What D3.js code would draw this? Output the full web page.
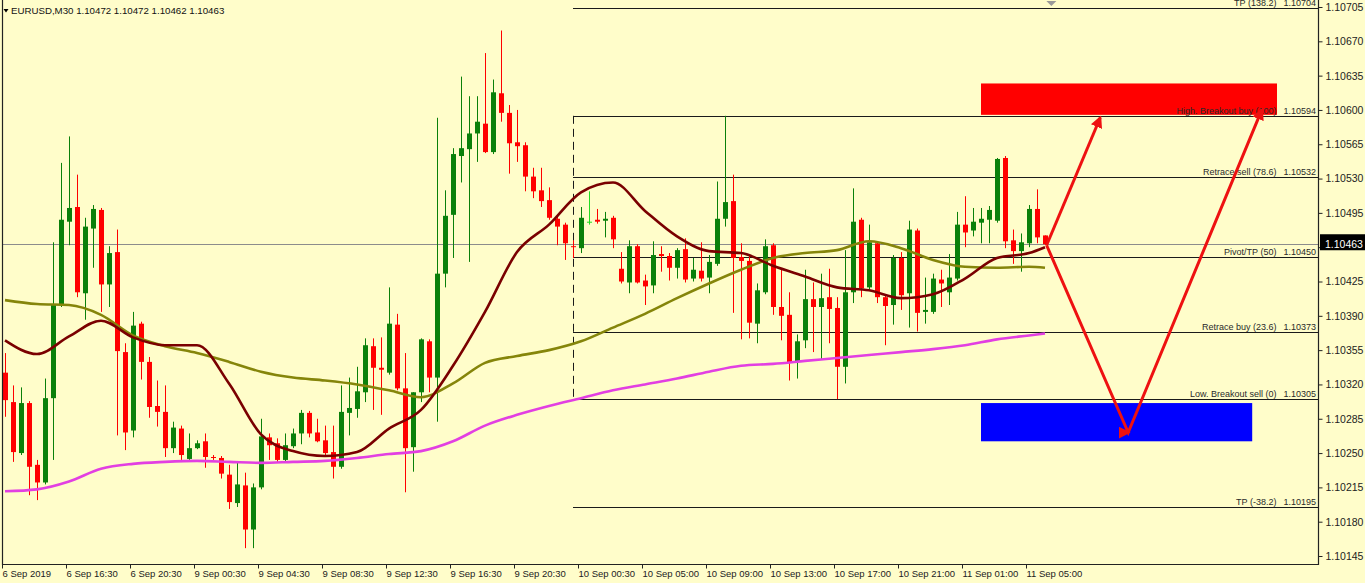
<!DOCTYPE html>
<html><head><meta charset="utf-8">
<script src="https://cdn.jsdelivr.net/npm/d3@7"></script>
<style>
html,body{margin:0;padding:0;background:#fffdca;overflow:hidden;}
svg{display:block;}
text{font-family:"Liberation Sans",Arial,sans-serif;}
</style></head><body>
<svg id="c" width="1365" height="583"></svg>
<script>
// ---- data ----
const symbolTitle = "EURUSD,M30  1.10472 1.10472 1.10462 1.10463";
const opens = [1.10332,1.10302,1.10250,1.10301,1.10238,1.10220,1.10306,1.10401,1.10486,1.10501,
1.10413,1.10479,1.10498,1.10422,1.10455,1.10353,1.10273,1.10382,1.10343,1.10298,
1.10292,1.10255,1.10275,1.10244,1.10255,1.10262,1.10246,1.10245,1.10228,1.10199,
1.10217,1.10172,1.10215,1.10266,1.10260,1.10243,1.10257,1.10270,1.10291,1.10271,
1.10263,1.10251,1.10236,1.10291,1.10295,1.10312,1.10359,1.10337,1.10332,1.10381,
1.10316,1.10256,1.10312,1.10364,1.10327,1.10433,1.10493,1.10553,1.10560,1.10576,
1.10586,1.10557,1.10617,1.10597,1.10567,1.10564,1.10532,1.10518,1.10508,1.10489,
1.10483,1.10461,1.10459,1.10486,1.10488,1.10487,1.10490,1.10438,1.10424,1.10461,
1.10426,1.10421,1.10453,1.10451,1.10439,1.10458,1.10428,1.10436,1.10429,1.10443,
1.10489,1.10507,1.10450,1.10446,1.10382,1.10414,1.10462,1.10399,1.10391,1.10343,
1.10365,1.10407,1.10399,1.10409,1.10398,1.10338,1.10414,1.10488,1.10419,1.10464,
1.10409,1.10401,1.10449,1.10413,1.10477,1.10394,1.10394,1.10427,1.10414,1.10428,
1.10483,1.10477,1.10485,1.10488,1.10487,1.10551,1.10467,1.10456,1.10464,1.10499,
1.10472];
const highs = [1.10352,1.10319,1.10317,1.10303,1.10243,1.10326,1.10465,1.10546,1.10573,1.10534,
1.10490,1.10503,1.10500,1.10461,1.10478,1.10362,1.10394,1.10384,1.10348,1.10324,
1.10319,1.10282,1.10278,1.10270,1.10263,1.10270,1.10248,1.10247,1.10238,1.10240,
1.10230,1.10219,1.10285,1.10270,1.10265,1.10270,1.10275,1.10294,1.10293,1.10285,
1.10278,1.10278,1.10319,1.10327,1.10338,1.10367,1.10367,1.10368,1.10419,1.10392,
1.10352,1.10312,1.10367,1.10366,1.10592,1.10518,1.10561,1.10634,1.10614,1.10614,
1.10658,1.10631,1.10681,1.10605,1.10600,1.10567,1.10541,1.10541,1.10521,1.10491,
1.10485,1.10467,1.10501,1.10517,1.10499,1.10496,1.10492,1.10455,1.10467,1.10463,
1.10432,1.10466,1.10461,1.10454,1.10459,1.10469,1.10449,1.10465,1.10452,1.10527,
1.10594,1.10534,1.10464,1.10453,1.10423,1.10468,1.10464,1.10437,1.10414,1.10371,
1.10437,1.10424,1.10433,1.10438,1.10409,1.10457,1.10520,1.10490,1.10483,1.10466,
1.10411,1.10452,1.10455,1.10487,1.10479,1.10429,1.10433,1.10437,1.10453,1.10496,
1.10512,1.10500,1.10500,1.10502,1.10551,1.10553,1.10478,1.10474,1.10503,1.10519,
1.10472];
const lows = [1.10287,1.10241,1.10248,1.10207,1.10202,1.10218,1.10243,1.10399,1.10462,1.10409,
1.10386,1.10439,1.10394,1.10399,1.10268,1.10253,1.10266,1.10325,1.10286,1.10277,
1.10246,1.10250,1.10243,1.10243,1.10254,1.10235,1.10243,1.10224,1.10193,1.10195,
1.10153,1.10153,1.10213,1.10243,1.10241,1.10241,1.10255,1.10259,1.10266,1.10261,
1.10248,1.10224,1.10234,1.10268,1.10286,1.10302,1.10294,1.10289,1.10330,1.10314,
1.10210,1.10231,1.10302,1.10312,1.10282,1.10419,1.10449,1.10526,1.10445,1.10547,
1.10556,1.10555,1.10588,1.10535,1.10547,1.10517,1.10510,1.10501,1.10488,1.10462,
1.10447,1.10449,1.10454,1.10483,1.10484,1.10470,1.10459,1.10423,1.10413,1.10423,
1.10401,1.10413,1.10435,1.10426,1.10428,1.10424,1.10425,1.10425,1.10413,1.10441,
1.10481,1.10393,1.10366,1.10367,1.10362,1.10412,1.10391,1.10365,1.10324,1.10326,
1.10357,1.10353,1.10345,1.10362,1.10305,1.10321,1.10403,1.10409,1.10417,1.10403,
1.10360,1.10381,1.10396,1.10378,1.10374,1.10382,1.10392,1.10399,1.10401,1.10426,
1.10460,1.10471,1.10464,1.10464,1.10485,1.10459,1.10443,1.10435,1.10460,1.10464,
1.10462];
const closes = [1.10304,1.10251,1.10301,1.10236,1.10220,1.10306,1.10401,1.10488,1.10500,1.10414,
1.10481,1.10499,1.10422,1.10454,1.10354,1.10271,1.10380,1.10343,1.10297,1.10292,
1.10255,1.10276,1.10248,1.10255,1.10260,1.10246,1.10245,1.10229,1.10200,1.10218,
1.10172,1.10215,1.10267,1.10258,1.10243,1.10258,1.10270,1.10291,1.10270,1.10262,
1.10250,1.10236,1.10292,1.10296,1.10313,1.10360,1.10337,1.10335,1.10382,1.10316,
1.10255,1.10312,1.10366,1.10327,1.10433,1.10492,1.10555,1.10561,1.10576,1.10588,
1.10557,1.10618,1.10597,1.10566,1.10563,1.10532,1.10517,1.10507,1.10490,1.10481,
1.10464,1.10460,1.10490,1.10486,1.10486,1.10489,1.10468,1.10425,1.10461,1.10424,
1.10420,1.10452,1.10451,1.10439,1.10457,1.10427,1.10437,1.10428,1.10445,1.10489,
1.10506,1.10449,1.10446,1.10383,1.10416,1.10461,1.10399,1.10390,1.10342,1.10364,
1.10407,1.10399,1.10408,1.10397,1.10338,1.10414,1.10486,1.10418,1.10465,1.10409,
1.10400,1.10449,1.10411,1.10478,1.10393,1.10396,1.10428,1.10423,1.10429,1.10483,
1.10475,1.10486,1.10489,1.10498,1.10550,1.10466,1.10456,1.10465,1.10499,1.10470,
1.10463];

const maIdx  = [0,4,8,12,16,20,24,28,32,36,40,44,48,52,56,60,64,68,72,76,80,84,88,92,96,100,104,108,112,116,120,124,128,130];
const maFast = [1.10365,1.10351,1.10369,1.10385,1.10368,1.10360,1.10360,1.10321,1.10269,1.10252,1.10247,1.10251,1.10275,1.10294,1.10339,1.10394,1.10455,1.10483,1.10516,1.10526,1.10497,1.10471,1.10456,1.10454,1.10441,1.10430,1.10419,1.10416,1.10408,1.10412,1.10428,1.10449,1.10454,1.10460];
const maMid  = [1.10406,1.10402,1.10401,1.10391,1.10370,1.10359,1.10352,1.10343,1.10333,1.10327,1.10324,1.10320,1.10314,1.10307,1.10321,1.10342,1.10349,1.10355,1.10364,1.10378,1.10392,1.10408,1.10423,1.10437,1.10449,1.10454,1.10457,1.10466,1.10459,1.10447,1.10440,1.10439,1.10440,1.10439];
const maSlow = [1.10211,1.10213,1.10221,1.10234,1.10239,1.10241,1.10242,1.10241,1.10240,1.10241,1.10242,1.10245,1.10249,1.10252,1.10262,1.10278,1.10289,1.10298,1.10306,1.10314,1.10320,1.10326,1.10333,1.10339,1.10341,1.10344,1.10347,1.10350,1.10353,1.10356,1.10360,1.10366,1.10370,1.10372];

const priceTicks = [1.10145,1.10180,1.10215,1.10250,1.10285,1.10320,1.10355,1.10390,1.10425,1.10460,1.10495,1.10530,1.10565,1.10600,1.10635,1.10670,1.10705];
const timeTickIdx = [0,8,16,24,32,40,48,56,64,72,80,88,96,104,112,120,128];
const timeLabels = ["6 Sep 2019","6 Sep 16:30","6 Sep 20:30","9 Sep 00:30","9 Sep 04:30","9 Sep 08:30","9 Sep 12:30","9 Sep 16:30","9 Sep 20:30","10 Sep 00:30","10 Sep 05:00","10 Sep 09:00","10 Sep 13:00","10 Sep 17:00","10 Sep 21:00","11 Sep 01:00","11 Sep 05:00"];

const lastPrice = 1.10463;
const fibStartIdx = 71;
const fibLabels = ["TP (138.2)","High. Breakout buy (100)","Retrace sell (78.6)","Pivot/TP (50)","Retrace buy (23.6)","Low. Breakout sell (0)","TP (-38.2)"];
const fibValues = [1.10704,1.10594,1.10532,1.10450,1.10373,1.10305,1.10195];
const fibHigh = 1.10594, fibLow = 1.10305;

const zoneNames = ["buy","sell"];
const zoneStart = [122,122];
const zoneEnd   = [159,155.9];
const zoneTop   = [1.10627,1.10301];
const zoneBottom= [1.10595,1.10262];
const zoneColors= ["#ff0000","#0000ff"];

const arrowUpIdx = [130.2,136.9];
const arrowUpPrice = [1.10462,1.10592];
const arrowVIdx = [130.2,140.4,157.1];
const arrowVPrice = [1.10462,1.10271,1.10600];

// ---- layout ----
const W=1365,H=583;
const pL=2, pR=1318, pT=0, pB=564;
const svg=d3.select("#c");
svg.append("rect").attr("width",W).attr("height",H).attr("fill","#fffdca");

const x=d3.scaleLinear().domain([0,130]).range([5,1045]);
const y=d3.scaleLinear().domain([1.10145,1.10705]).range([556,7]);

const defs=svg.append("defs");
defs.append("clipPath").attr("id","plot")
  .append("rect").attr("x",pL).attr("y",pT).attr("width",pR-pL).attr("height",pB-pT);
const g=svg.append("g").attr("clip-path","url(#plot)");

// current price line
g.append("line").attr("x1",pL).attr("x2",pR).attr("y1",Math.round(y(lastPrice))+0.5).attr("y2",Math.round(y(lastPrice))+0.5)
  .attr("stroke","#8c8c8c").attr("stroke-width",1);

// zones
g.selectAll("rect.zone").data(zoneNames).enter().append("rect").attr("class","zone")
  .attr("x",(d,i)=>x(zoneStart[i])).attr("width",(d,i)=>x(zoneEnd[i])-x(zoneStart[i]))
  .attr("y",(d,i)=>y(zoneTop[i])).attr("height",(d,i)=>y(zoneBottom[i])-y(zoneTop[i]))
  .attr("fill",(d,i)=>zoneColors[i]);

// fib lines
g.selectAll("line.fib").data(fibValues).enter().append("line").attr("class","fib")
  .attr("x1",x(fibStartIdx)).attr("x2",pR)
  .attr("y1",d=>Math.round(y(d))+0.5).attr("y2",d=>Math.round(y(d))+0.5)
  .attr("stroke","#1a1a1a").attr("stroke-width",1);
g.append("line").attr("x1",Math.round(x(fibStartIdx))+0.5).attr("x2",Math.round(x(fibStartIdx))+0.5)
  .attr("y1",y(fibHigh)).attr("y2",y(fibLow)).attr("stroke","#1a1a1a").attr("stroke-width",1)
  .attr("stroke-dasharray","8,5");
const ft=g.selectAll("text.fib").data(fibValues).enter().append("text").attr("class","fib")
  .attr("x",pR-2).attr("y",d=>Math.round(y(d))-2)
  .attr("text-anchor","end").attr("font-size","9px").attr("fill","#2a2a2a");
ft.append("tspan").text((d,i)=>fibLabels[i]);
ft.append("tspan").attr("dx",7).text(d=>d3.format(".5f")(d));

// candles
const idx=d3.range(opens.length);
const bull="#0a800a", bear="#ff0000", doji="#22dd22";
const col=i=> closes[i]>opens[i]?bull:(closes[i]<opens[i]?bear:doji);
g.selectAll("line.wick").data(idx).enter().append("line").attr("class","wick")
  .attr("x1",i=>Math.round(x(i))+0.5).attr("x2",i=>Math.round(x(i))+0.5)
  .attr("y1",i=>y(highs[i])).attr("y2",i=>y(lows[i]))
  .attr("stroke",col).attr("stroke-width",1);
g.selectAll("rect.body").data(idx).enter().append("rect").attr("class","body")
  .attr("x",i=>Math.round(x(i))-2).attr("width",5)
  .attr("y",i=>y(Math.max(opens[i],closes[i])))
  .attr("height",i=>Math.max(1,Math.abs(y(opens[i])-y(closes[i]))))
  .attr("fill",col);

// moving averages
const maLine=arr=>d3.line().x((d,i)=>x(maIdx[i])).y(d=>y(d)).curve(d3.curveMonotoneX)(arr);
[[maSlow,"#e23fe2"],[maMid,"#85850a"],[maFast,"#7a0000"]].forEach(([arr,c])=>{
  g.append("path").attr("d",maLine(arr)).attr("fill","none").attr("stroke",c).attr("stroke-width",2.6)
   .attr("stroke-linejoin","round");
});

// arrows
defs.append("marker").attr("id","ah").attr("viewBox","0 0 10 10").attr("refX",8).attr("refY",5)
  .attr("markerWidth",4).attr("markerHeight",4).attr("orient","auto")
  .append("path").attr("d","M0,0 L10,5 L0,10 z").attr("fill","#ee1111");
const arrLine=d3.line().x(d=>x(d[0])).y(d=>y(d[1]));
g.append("path").attr("d",arrLine(arrowUpIdx.map((v,i)=>[v,arrowUpPrice[i]])))
  .attr("fill","none").attr("stroke","#ee1111").attr("stroke-width",3).attr("marker-end","url(#ah)");
g.append("path").attr("d",arrLine(arrowVIdx.map((v,i)=>[v,arrowVPrice[i]])))
  .attr("fill","none").attr("stroke","#ee1111").attr("stroke-width",3).attr("stroke-linejoin","miter")
  .attr("marker-mid","url(#ah)").attr("marker-end","url(#ah)");

// shift marker
svg.append("path").attr("d",`M${x(130.8)-5},1 L${x(130.8)+5},1 L${x(130.8)},6 Z`).attr("fill","#9a9a9a");

// frame
svg.append("path").attr("d",`M${pL+0.5},0 V${pB+0.5} H${pR+0.5} V0`).attr("fill","none")
  .attr("stroke","#222").attr("stroke-width",1.2);

// price axis (the tick label hidden under the last-price box is left blank, as in the reference)
const ly=y(lastPrice);
const ya=svg.append("g").attr("transform",`translate(${pR+0.5},0)`)
  .call(d3.axisRight(y).tickValues(priceTicks)
    .tickFormat(d=>Math.abs(y(d)-ly)<10?"":d3.format(".5f")(d)).tickSize(4).tickPadding(3));
ya.select(".domain").remove();
ya.selectAll("line").attr("stroke","#222");
ya.selectAll("text").attr("font-size","10.5px").attr("fill","#222").attr("font-family","Liberation Sans, Arial, sans-serif");

// last price box
svg.append("rect").attr("x",pR+2).attr("y",ly-10).attr("width",W-pR-2).attr("height",16).attr("fill","#000");
svg.append("text").attr("x",pR+7).attr("y",ly+3.5).attr("fill","#fff").attr("font-size","10.5px").text(d3.format(".5f")(lastPrice));

// time axis
const xa=svg.append("g").attr("transform",`translate(0,${pB+0.5})`)
  .call(d3.axisBottom(x).tickValues(timeTickIdx).tickFormat((d,i)=>timeLabels[i]).tickSize(4).tickPadding(2));
xa.select(".domain").remove();
xa.selectAll("line").attr("stroke","#222").attr("transform","translate(-3,0)");
xa.selectAll("text").attr("text-anchor","start").attr("dx","-3").attr("font-size","9.5px").attr("fill","#222")
  .attr("font-family","Liberation Sans, Arial, sans-serif");

// title
svg.append("path").attr("d","M3.5,9 L8.5,9 L6,12.5 Z").attr("fill","#000");
svg.append("text").attr("x",11).attr("y",14).attr("font-size","9.7px").attr("fill","#111").text(symbolTitle);
</script>
</body></html>
